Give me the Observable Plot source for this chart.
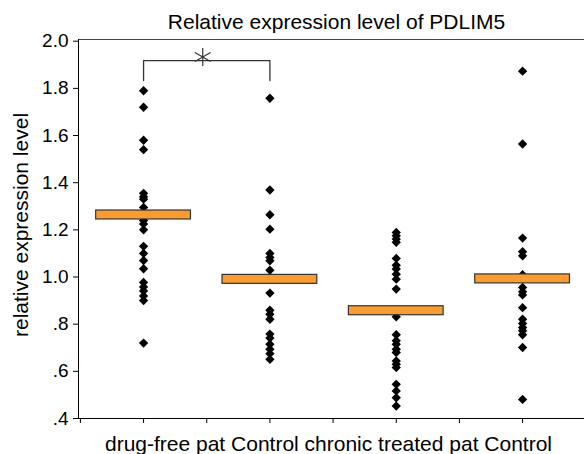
<!DOCTYPE html>
<html>
<head>
<meta charset="utf-8">
<script src="https://cdn.jsdelivr.net/npm/d3@7"></script>
<script src="https://cdn.jsdelivr.net/npm/@observablehq/plot@0.6"></script>
<style>
  html, body { margin: 0; padding: 0; background: #fff; }
  #chart { width: 584px; height: 454px; overflow: hidden; }
  svg { font-family: "Liberation Sans", Arial, Helvetica, sans-serif; }
</style>
</head>
<body>
<div id="chart"></div>
<script>
const title = "Relative expression level of PDLIM5";
const yLabel = "relative expression level";
const groupLabels = ["drug-free pat", "Control", "chronic treated pat", "Control"];
const yTicks = [0.4, 0.6, 0.8, 1.0, 1.2, 1.4, 1.6, 1.8, 2.0];

const drugFree = [1.79, 1.72, 1.58, 1.54, 1.355, 1.34, 1.33, 1.295, 1.27, 1.24, 1.225, 1.20, 1.13, 1.10, 1.07, 1.035, 0.977, 0.958, 0.941, 0.92, 0.90, 0.72];
const control1 = [1.758, 1.369, 1.264, 1.203, 1.10, 1.083, 1.069, 1.029, 1.0, 0.932, 0.859, 0.842, 0.821, 0.758, 0.741, 0.715, 0.694, 0.675, 0.651];
const chronic = [1.189, 1.175, 1.161, 1.147, 1.079, 1.05, 1.034, 1.012, 0.991, 0.949, 0.86, 0.831, 0.755, 0.73, 0.715, 0.694, 0.68, 0.644, 0.63, 0.616, 0.545, 0.517, 0.488, 0.453];
const control2 = [1.873, 1.564, 1.165, 1.107, 1.09, 1.01, 0.956, 0.938, 0.924, 0.87, 0.821, 0.803, 0.786, 0.772, 0.755, 0.701, 0.481];
const groupMeans = [1.263, 0.99, 0.857, 0.992];

// significance bracket between group 1 and group 2
const bracket = [{g: 1, v: 1.833}, {g: 1, v: 1.918}, {g: 2, v: 1.918}, {g: 2, v: 1.833}];
const significance = [{g: 1.5, v: 1.918}];

const series = [drugFree, control1, chronic, control2];
const points = series.flatMap((vals, i) => vals.map(v => ({g: i + 1, v})));
const means = groupMeans.map((v, i) => ({g: i + 1, v}));

const xDomain = [0.485, 4.49];
const yDomain = [0.4, 2.0072];
const halfW = 0.375;
const halfH = 0.019;

const chart = Plot.plot({
  width: 584,
  height: 454,
  marginLeft: 78,
  marginRight: 0,
  marginTop: 39,
  marginBottom: 36,
  x: {type: "linear", domain: xDomain},
  y: {domain: yDomain},
  style: {fontFamily: "Liberation Sans, Arial, sans-serif", color: "#000", background: "#fff"},
  marks: [
    Plot.axisY({
      ticks: yTicks,
      tickFormat: d => d >= 1 ? d.toFixed(1) : d.toFixed(1).replace(/^0/, ""),
      tickSize: 5,
      tickPadding: 5,
      fontSize: 19,
      label: null
    }),
    Plot.axisX({
      ticks: [0.5, 1, 1.5, 2, 2.5, 3, 3.5, 4, 4.5].filter(t => t <= xDomain[1]),
      tickFormat: () => "",
      tickSize: 5,
      label: null
    }),
    Plot.ruleY([yDomain[0]], {stroke: "#000"}),
    Plot.ruleY([yDomain[1]], {stroke: "#444"}),
    Plot.ruleX([xDomain[0]], {stroke: "#000"}),
    Plot.dot(points, {x: "g", y: "v", symbol: "diamond2", r: 4.2, fill: "#000", stroke: "none"}),
    Plot.rect(means, {
      x1: d => d.g - halfW, x2: d => d.g + halfW,
      y1: d => d.v - halfH, y2: d => d.v + halfH,
      fill: "#f99d32", stroke: "#333", strokeWidth: 1.2
    }),
    Plot.line(bracket, {x: "g", y: "v", stroke: "#333", strokeWidth: 1.3}),
    Plot.dot(significance, {x: "g", y: "v", symbol: "asterisk", r: 8.6, dx: -4, dy: -3.5, stroke: "#333", strokeWidth: 1.2}),
    Plot.text([title], {frameAnchor: "top", lineAnchor: "bottom", dx: 5, dy: -11, fontSize: 21, fill: "#000"}),
    Plot.text([groupLabels.join(" ")], {frameAnchor: "bottom", lineAnchor: "bottom", dx: -3, dy: 32, fontSize: 21, fill: "#000"}),
    Plot.text([yLabel], {frameAnchor: "left", textAnchor: "middle", lineAnchor: "middle", rotate: -90, dx: -57, dy: -4, fontSize: 21, fill: "#000"})
  ]
});
document.getElementById("chart").appendChild(chart);
</script>
</body>
</html>
